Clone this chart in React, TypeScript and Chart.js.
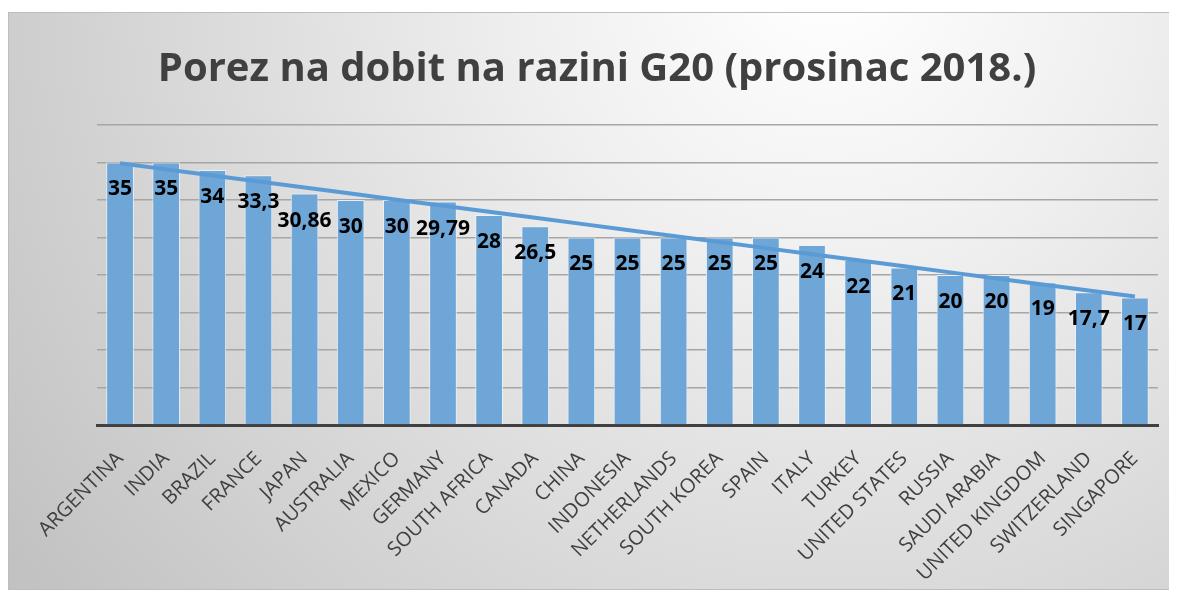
import React, { useEffect, useRef } from "react";
import { Chart, registerables } from "chart.js";

Chart.register(...registerables);

const categories = [
  "ARGENTINA", "INDIA", "BRAZIL", "FRANCE", "JAPAN", "AUSTRALIA", "MEXICO", "GERMANY",
  "SOUTH AFRICA", "CANADA", "CHINA", "INDONESIA", "NETHERLANDS", "SOUTH KOREA", "SPAIN",
  "ITALY", "TURKEY", "UNITED STATES", "RUSSIA", "SAUDI ARABIA", "UNITED KINGDOM",
  "SWITZERLAND", "SINGAPORE",
];
const taxRates = [35, 35, 34, 33.3, 30.86, 30, 30, 29.79, 28, 26.5, 25, 25, 25, 25, 25, 24, 22, 21, 20, 20, 19, 17.7, 17];
const valueLabels = ["35", "35", "34", "33,3", "30,86", "30", "30", "29,79", "28", "26,5", "25", "25", "25", "25", "25", "24", "22", "21", "20", "20", "19", "17,7", "17"];
const titleText = "Porez na dobit na razini G20 (prosinac 2018.)";

function linearTrend(vals: number[]): number[] {
  const n = vals.length;
  let sx = 0, sy = 0, sxy = 0, sxx = 0;
  vals.forEach((v, i) => { sx += i; sy += v; sxy += i * v; sxx += i * i; });
  const b = (n * sxy - sx * sy) / (n * sxx - sx * sx);
  const a = (sy - b * sx) / n;
  return vals.map((_, i) => a + b * i);
}

const FONT = "'Open Sans', 'Liberation Sans', sans-serif";

const bgPlugin = {
  id: "bgPlugin",
  beforeDraw(chart: any) {
    const { ctx, width, height } = chart;
    ctx.save();
    const g = ctx.createRadialGradient(820, -40, 10, 820, -40, 1000);
    g.addColorStop(0, "#ffffff");
    g.addColorStop(0.3, "#efefef");
    g.addColorStop(1, "#c2c2c2");
    ctx.fillStyle = g;
    ctx.fillRect(0, 0, width, height);
    ctx.strokeStyle = "#bdbdbd";
    ctx.lineWidth = 1;
    ctx.strokeRect(0.5, 0.5, width - 1, height - 1);
    ctx.fillStyle = "#404040";
    ctx.font = `bold 40px ${FONT}`;
    ctx.textAlign = "center";
    ctx.textBaseline = "middle";
    ctx.fillText(titleText, width / 2 + 7, 58);
    ctx.restore();
  },
};

const labelPlugin = {
  id: "labelPlugin",
  afterDatasetsDraw(chart: any) {
    const { ctx } = chart;
    const meta = chart.getDatasetMeta(1);
    ctx.save();
    ctx.fillStyle = "#000000";
    ctx.font = `bold 21px ${FONT}`;
    ctx.textAlign = "center";
    ctx.textBaseline = "middle";
    meta.data.forEach((el: any, i: number) => {
      ctx.fillText(valueLabels[i], el.x, el.y + 27);
    });
    ctx.restore();
  },
};

export default function App() {
  const ref = useRef<HTMLCanvasElement | null>(null);
  useEffect(() => {
    if (!ref.current) return;
    const trend = linearTrend(taxRates);
    const chart = new Chart(ref.current, {
      type: "bar",
      data: {
        labels: categories,
        datasets: [
          {
            type: "line",
            label: "Trend",
            data: trend,
            borderColor: "#5b9bd5",
            borderWidth: 4,
            pointRadius: 0,
            order: 0,
          } as any,
          {
            type: "bar",
            label: "Porez",
            data: taxRates,
            backgroundColor: "#6fa6d8",
            borderColor: "rgba(235,242,250,0.9)",
            borderWidth: 1,
            categoryPercentage: 0.6,
            barPercentage: 1,
            order: 1,
          },
        ],
      },
      options: {
        animation: false,
        responsive: false,
        maintainAspectRatio: false,
        layout: { padding: { top: 113, left: 89, right: 14, bottom: 0 } },
        plugins: {
          legend: { display: false },
          title: { display: false },
          tooltip: { enabled: false },
        },
        scales: {
          x: {
            grid: { display: false },
            border: { color: "#404040", width: 3 },
            afterFit(scale: any) { scale.height = 165; },
            ticks: {
              color: "#404040",
              font: { family: FONT, size: 20 },
              minRotation: 45,
              maxRotation: 45,
              autoSkip: false,
              padding: 14,
            },
          },
          y: {
            min: 0,
            max: 40,
            afterFit(scale: any) { scale.width = 0; },
            ticks: { display: false, stepSize: 5 },
            border: { display: false },
            grid: { color: "#a6a6a6", lineWidth: 1.5, drawTicks: false },
          },
        },
      },
      plugins: [bgPlugin, labelPlugin],
    });
    return () => chart.destroy();
  }, []);
  return (
    <div style={{ paddingTop: 4 }}>
      <canvas ref={ref} width={1164} height={578} style={{ display: "block" }} />
    </div>
  );
}
